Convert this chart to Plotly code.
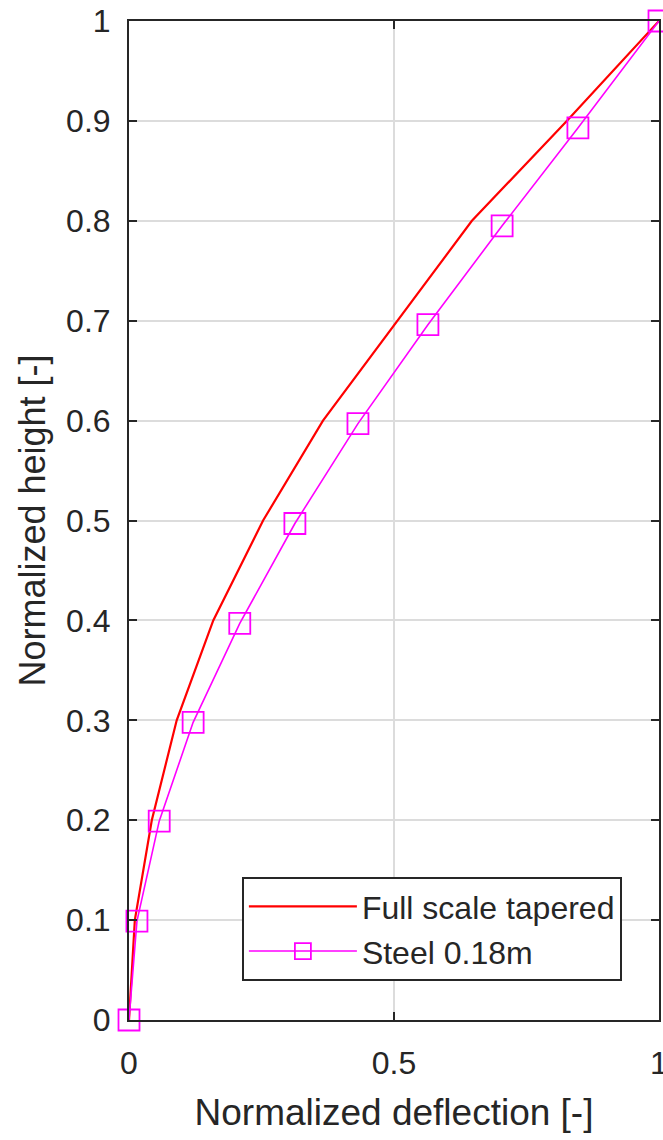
import plotly.graph_objects as go

# Data
height_full = [0.0, 0.1, 0.2, 0.3, 0.4, 0.5, 0.6, 0.7, 0.8, 0.9, 1.0]
defl_full = [0.0, 0.011, 0.043, 0.09, 0.159, 0.253, 0.366, 0.506, 0.647, 0.826, 1.0]

height_steel = [0.0, 0.099, 0.199, 0.298, 0.397, 0.497, 0.597, 0.696, 0.795, 0.893, 1.0]
defl_steel = [0.0, 0.015, 0.057, 0.121, 0.209, 0.313, 0.432, 0.564, 0.704, 0.847, 1.0]

x_ticks = [0, 0.5, 1]
x_tick_labels = ["0", "0.5", "1"]
y_ticks = [0, 0.1, 0.2, 0.3, 0.4, 0.5, 0.6, 0.7, 0.8, 0.9, 1]
y_tick_labels = ["0", "0.1", "0.2", "0.3", "0.4", "0.5", "0.6", "0.7", "0.8", "0.9", "1"]

font = "Liberation Sans, Arial, sans-serif"
ink = "#262626"

fig = go.Figure()
fig.add_trace(go.Scatter(
    x=defl_full, y=height_full, mode="lines", name="Full scale tapered",
    line=dict(color="#FF0000", width=2.2), cliponaxis=False,
))
fig.add_trace(go.Scatter(
    x=defl_steel, y=height_steel, mode="lines+markers", name="Steel 0.18m",
    line=dict(color="#FF00FF", width=1.6),
    marker=dict(symbol="square-open", size=21, color="#FF00FF", line=dict(width=1.8, color="#FF00FF")),
    cliponaxis=False,
))

axis_common = dict(
    showline=True, linecolor=ink, linewidth=2, mirror="ticks",
    ticks="inside", ticklen=8, tickwidth=1.5, tickcolor=ink,
    showgrid=True, gridcolor="#DCDCDC", gridwidth=1.5,
    zeroline=False,
    tickfont=dict(family=font, size=32, color=ink),
)

fig.update_xaxes(
    range=[0, 1], tickvals=x_ticks, ticktext=x_tick_labels,
    ticklabelstandoff=14, ticklabeloverflow="allow",
    title=dict(text="Normalized deflection [-]", font=dict(family=font, size=37, color=ink), standoff=19),
    **axis_common,
)
fig.update_yaxes(
    range=[0, 1], tickvals=y_ticks, ticktext=y_tick_labels,
    ticklabelstandoff=10,
    title=dict(text="Normalized height [-]", font=dict(family=font, size=36, color=ink), standoff=10),
    **axis_common,
)

fig.update_layout(
    width=663, height=1140,
    margin=dict(l=129, r=4, t=21, b=120, autoexpand=False),
    paper_bgcolor="white", plot_bgcolor="white",
    legend=dict(
        x=0.213, y=0.143, xanchor="left", yanchor="top",
        bgcolor="white", bordercolor=ink, borderwidth=2,
        font=dict(family=font, size=32, color=ink),
        itemwidth=108,
    ),
    showlegend=True,
)

fig.write_html("out.html")
